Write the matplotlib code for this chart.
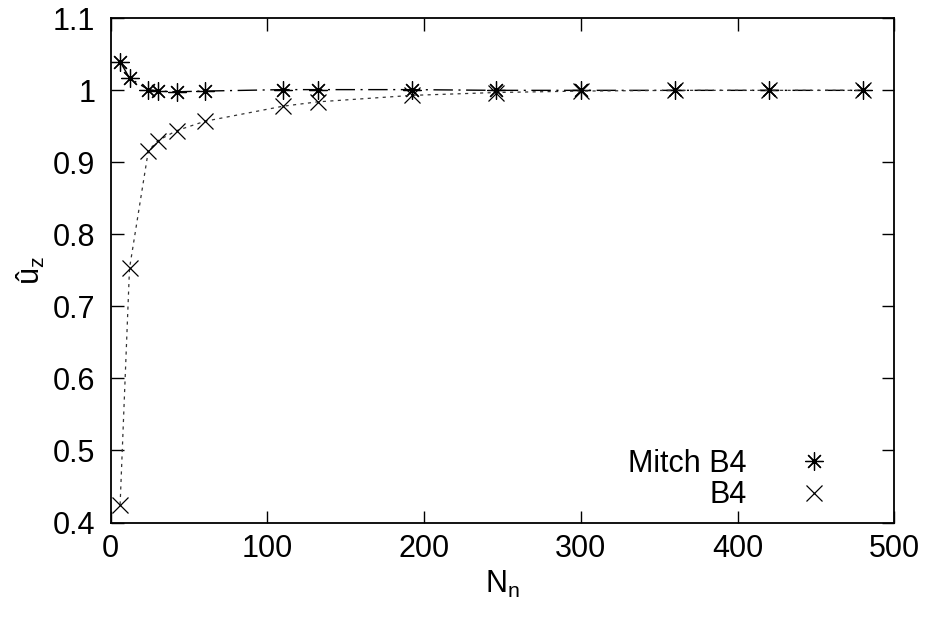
import matplotlib
matplotlib.use('Agg')
import matplotlib.pyplot as plt
from matplotlib.lines import Line2D

# data
n_nodes = [6, 12, 24, 30, 42, 60, 110, 132, 192, 246, 300, 360, 420, 480]
mitch_b4 = [1.040, 1.017, 1.001, 0.999, 0.998, 0.999, 1.001, 1.001, 1.001, 1.000, 1.000, 1.000, 1.000, 1.000]
b4 = [0.425, 0.753, 0.916, 0.930, 0.944, 0.957, 0.978, 0.984, 0.993, 0.997, 0.999, 1.000, 1.000, 1.000]
labels = ['Mitch B4', 'B4']

plt.rcParams['font.family'] = ['Liberation Sans', 'DejaVu Sans']
plt.rcParams['mathtext.fontset'] = 'custom'
plt.rcParams['mathtext.rm'] = 'Liberation Sans'
plt.rcParams['mathtext.it'] = 'Liberation Sans'

fig = plt.figure(figsize=(9.28, 6.21), dpi=100)
ax = fig.add_axes([0.1193, 0.1586, 0.8444, 0.8119])

star = (8, 2, 0)  # gnuplot-style asterisk (+ and x)

ax.plot(n_nodes, mitch_b4, color='black', lw=1.0, dashes=(14, 4, 1.5, 4),
        marker=star, markersize=13, markeredgewidth=0.9)
ax.plot(n_nodes, b4, color='#333333', lw=0.9, dashes=(2.5, 3.5),
        marker='x', markersize=11, markeredgewidth=0.9, markeredgecolor='black')

ax.set_xlim(0, 500)
ax.set_ylim(0.4, 1.1)
ax.set_xticks([0, 100, 200, 300, 400, 500])
ax.set_yticks([0.4, 0.5, 0.6, 0.7, 0.8, 0.9, 1.0, 1.1])
ax.set_yticklabels(['0.4', '0.5', '0.6', '0.7', '0.8', '0.9', '1', '1.1'])
ax.tick_params(direction='in', length=9, width=1.0, top=True, right=True,
               labelsize=22, pad=8)
ax.tick_params(axis='y', pad=11)
for s in ax.spines.values():
    s.set_linewidth(1.3)

ax.set_xlabel(r'N$_\mathregular{n}$', fontsize=22, labelpad=4)
ax.set_ylabel(r'û$_\mathregular{z}$', fontsize=22, labelpad=4)

handles = [Line2D([], [], ls='none', color='black', marker=star, markersize=13, markeredgewidth=0.9),
           Line2D([], [], ls='none', color='black', marker='x', markersize=11, markeredgewidth=0.9)]
ax.legend(handles, labels, loc='lower right', bbox_to_anchor=(0.932, 0.0),
          markerfirst=False, frameon=False, fontsize=22, handlelength=1.0,
          handletextpad=1.7, labelspacing=0.05, borderaxespad=0.0)

fig.savefig('out.png', dpi=100)
